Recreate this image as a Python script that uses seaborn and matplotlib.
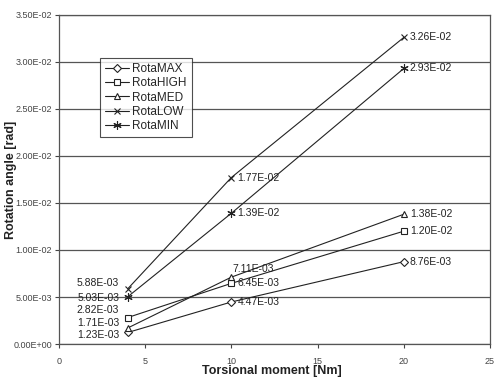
import pandas as pd
import numpy as np
import matplotlib
matplotlib.use("Agg")
import matplotlib.pyplot as plt
import seaborn as sns
from matplotlib.ticker import FuncFormatter, MultipleLocator

sns.set_theme(style="white")
plt.rcParams["font.family"] = ["Liberation Sans", "DejaVu Sans"]

# %% data
moments = [4, 10, 20]
series_names = ["RotaMAX", "RotaHIGH", "RotaMED", "RotaLOW", "RotaMIN"]
rota_max = [1.23e-03, 4.47e-03, 8.76e-03]
rota_high = [2.82e-03, 6.45e-03, 1.20e-02]
rota_med = [1.71e-03, 7.11e-03, 1.38e-02]
rota_low = [5.88e-03, 1.77e-02, 3.26e-02]
rota_min = [5.03e-03, 1.39e-02, 2.93e-02]

values = [rota_max, rota_high, rota_med, rota_low, rota_min]
df = pd.DataFrame({
    "moment": moments * len(series_names),
    "angle": [v for vals in values for v in vals],
    "series": [s for s in series_names for _ in moments],
})

markers = {"RotaMAX": "D", "RotaHIGH": "s", "RotaMED": "^",
           "RotaLOW": "x", "RotaMIN": (6, 2, 0)}
marker_size = {"RotaMAX": 4, "RotaHIGH": 5, "RotaMED": 5,
               "RotaLOW": 5, "RotaMIN": 6}
# label nudges for the crowded x=4 column (data units, vertical)
left_nudge = {"RotaMAX": -0.0003, "RotaHIGH": 0.0008, "RotaMED": 0.0005,
              "RotaLOW": 0.0006, "RotaMIN": -0.0001}

# %% plot
fig = plt.figure(figsize=(4.94, 3.81), dpi=100)
ax = fig.add_axes([0.119, 0.097, 0.873, 0.864])

for name in series_names:
    sub = df[df["series"] == name]
    sns.lineplot(data=sub, x="moment", y="angle", ax=ax, color="#222222",
                 lw=0.8, marker=markers[name], markersize=marker_size[name],
                 markerfacecolor="white", markeredgecolor="#222222",
                 markeredgewidth=0.8, label=name)

# value labels
label_kw = dict(fontsize=7.5, color="#222222", va="center")
for name, vals in zip(series_names, values):
    for x, y in zip(moments, vals):
        txt = f"{y:.2E}"
        if x == 4:
            ax.text(x - 0.5, y + left_nudge[name], txt, ha="right", **label_kw)
        elif name == "RotaMED" and x == 10:
            ax.text(x + 0.05, y + 0.0009, txt, ha="left", **label_kw)
        else:
            ax.text(x + 0.35, y, txt, ha="left", **label_kw)

ax.set_xlim(0, 25)
ax.set_ylim(0, 0.035)
ax.xaxis.set_major_locator(MultipleLocator(5))
ax.yaxis.set_major_locator(MultipleLocator(0.005))
ax.yaxis.set_major_formatter(FuncFormatter(lambda v, p: f"{v:.2E}"))
ax.grid(axis="y", color="#555555", lw=0.9)
ax.grid(axis="x", visible=False)
ax.tick_params(axis="both", labelsize=6.5, labelcolor="#444444",
               direction="out", length=3, color="#444444", width=0.8,
               bottom=True, left=True, pad=2)
ax.tick_params(axis="x", pad=6)
for side in ["left", "bottom", "right", "top"]:
    ax.spines[side].set_color("#555555")
    ax.spines[side].set_linewidth(0.9)

ax.set_xlabel("Torsional moment [Nm]", fontsize=9, fontweight="bold",
              color="#222222")
ax.set_ylabel("Rotation angle [rad]", fontsize=9, fontweight="bold",
              color="#222222")
ax.xaxis.set_label_coords(0.495, -0.065)
ax.yaxis.set_label_coords(-0.097, 0.5)

leg = ax.legend(loc="upper left", bbox_to_anchor=(0.095, 0.869), fontsize=8.5,
                frameon=True, fancybox=False, edgecolor="#222222",
                handlelength=2.0, handletextpad=0.3, labelspacing=0.18,
                borderpad=0.45, borderaxespad=0)
leg.get_frame().set_linewidth(0.8)

fig.savefig("out.png", dpi=100)
